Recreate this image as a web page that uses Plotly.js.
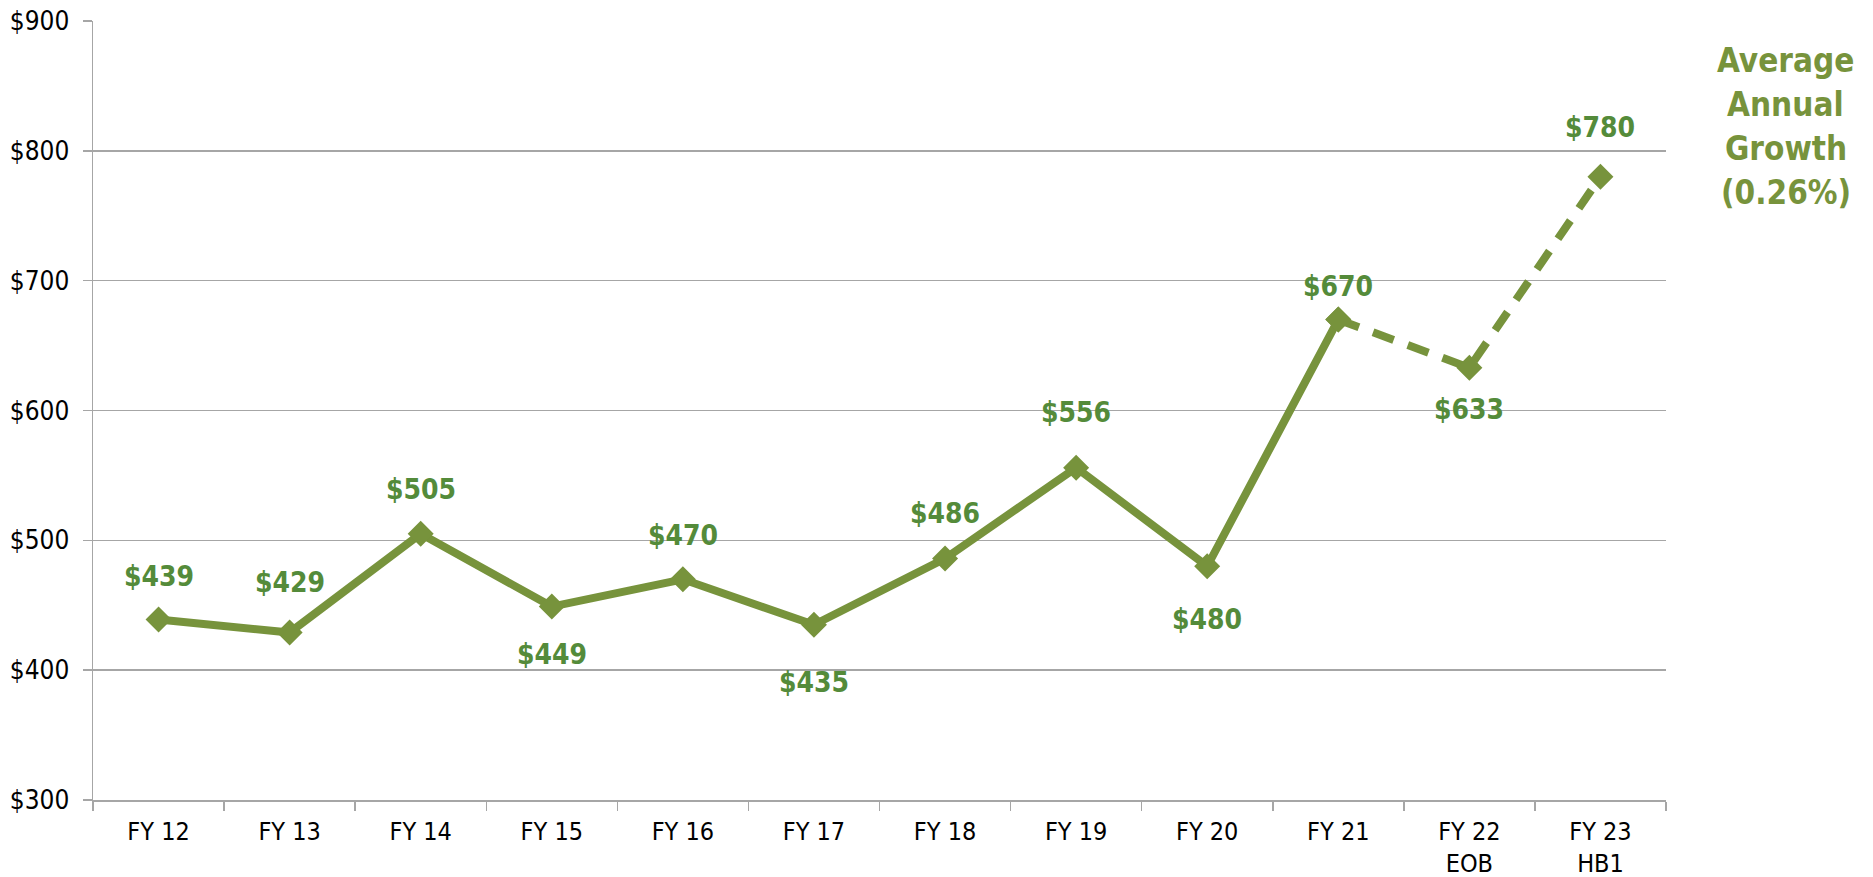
<!DOCTYPE html>
<html>
<head>
<meta charset="utf-8">
<script src="https://cdn.plot.ly/plotly-3.0.1.min.js"></script>
<style>
  html, body { margin: 0; padding: 0; background: #ffffff; }
  #chart { width: 1873px; height: 877px; }
</style>
</head>
<body>
<div id="chart"></div>
<script>
// ---- data ----
const categories = ['FY 12', 'FY 13', 'FY 14', 'FY 15', 'FY 16', 'FY 17', 'FY 18', 'FY 19', 'FY 20', 'FY 21', 'FY 22<br>EOB', 'FY 23<br>HB1'];
const values = [439, 429, 505, 449, 470, 435, 486, 556, 480, 670, 633, 780];
const actualCount = 10; // FY 12 – FY 21 are actuals (solid); the rest are estimates (dashed)
const yTickVals = [300, 400, 500, 600, 700, 800, 900];
const growthNoteLines = ['Average', 'Annual', 'Growth', '(0.26%)'];

// ---- styles ----
const lineColor = '#77933C';
const labelColor = '#548B3A';
const gridColor = '#A6A6A6';
const fontFam = '"DejaVu Sans Condensed", "DejaVu Sans", sans-serif';
// vertical offset of each value label from its point (px, negative = above)
const labelDy = [-43, -50, -44, 48, -44, 58, -45, -55, 53, -33, 42, -49];

const solidX = categories.slice(0, actualCount);
const solidY = values.slice(0, actualCount);
const dashX = categories.slice(actualCount - 1);
const dashY = values.slice(actualCount - 1);

const traces = [
  {
    x: solidX, y: solidY, type: 'scatter', mode: 'lines+markers',
    line: { color: lineColor, width: 8 },
    marker: { symbol: 'diamond', size: 20, color: lineColor },
    hoverinfo: 'x+y', showlegend: false
  },
  {
    x: dashX, y: dashY, type: 'scatter', mode: 'lines+markers',
    line: { color: lineColor, width: 8, dash: '22px,15px' },
    marker: { symbol: 'diamond', size: 20, color: lineColor },
    hoverinfo: 'x+y', showlegend: false
  }
];

const annotations = values.map((v, i) => ({
  x: categories[i], y: v, xref: 'x', yref: 'y',
  text: '$' + v, showarrow: false,
  yshift: -labelDy[i],
  font: { family: fontFam, size: 28, color: labelColor, weight: 'bold' }
}));

growthNoteLines.forEach((t, i) => {
  annotations.push({
    xref: 'paper', yref: 'paper', x: 1.076, y: 1,
    xanchor: 'center', yanchor: 'middle',
    yshift: -(39 + 44 * i),
    text: t, showarrow: false, align: 'center',
    font: { family: fontFam, size: 33, color: lineColor, weight: 'bold' }
  });
});

const layout = {
  width: 1873, height: 877,
  margin: { l: 93, r: 207, t: 21, b: 77 },
  paper_bgcolor: '#ffffff', plot_bgcolor: '#ffffff',
  font: { family: fontFam, size: 25, color: '#000000' },
  showlegend: false,
  xaxis: {
    type: 'category',
    categoryorder: 'array', categoryarray: categories,
    range: [-0.5, categories.length - 0.5],
    tickson: 'boundaries',
    ticks: 'outside', ticklen: 9, tickwidth: 1.5, tickcolor: gridColor,
    showline: true, linecolor: gridColor, linewidth: 1.5,
    showgrid: false, zeroline: false,
    tickfont: { family: fontFam, size: 25, color: '#000000' },
    ticklabelstandoff: 8
  },
  yaxis: {
    range: [300, 900],
    tickvals: yTickVals,
    ticktext: yTickVals.map(v => '$' + v),
    ticks: 'outside', ticklen: 9, tickwidth: 1.5, tickcolor: gridColor,
    showline: true, linecolor: gridColor, linewidth: 1.5,
    showgrid: true, gridcolor: gridColor, gridwidth: 1.5,
    zeroline: false,
    tickfont: { family: fontFam, size: 26, color: '#000000' },
    ticklabelstandoff: 8
  },
  annotations: annotations
};

Plotly.newPlot('chart', traces, layout, { displayModeBar: false, staticPlot: true });
</script>
</body>
</html>
